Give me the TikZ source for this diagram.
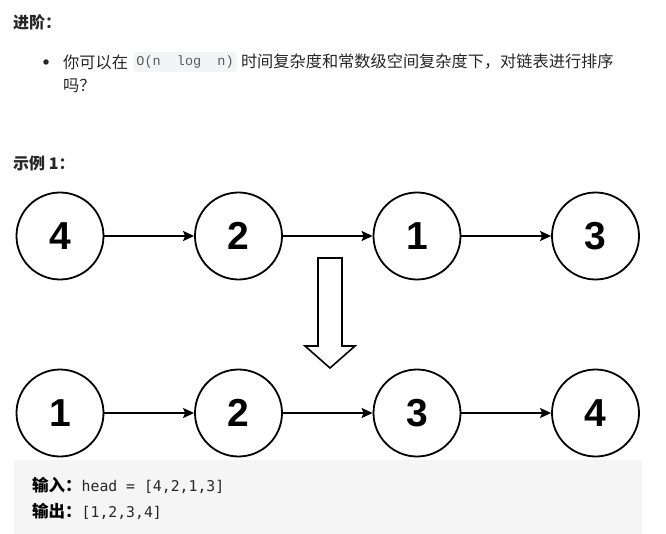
\documentclass[tikz,border=0pt]{standalone}
\usepackage{fontspec}
\usepackage{tikz}
\usetikzlibrary{positioning,arrows.meta}
\setmainfont{Liberation Sans}
\setmonofont{DejaVu Sans Mono}
\newfontfamily\cjk{Noto Sans CJK SC}
\newfontfamily\codefont{Liberation Mono}
\definecolor{ink}{HTML}{262626}
\definecolor{codebg}{HTML}{F3F4F5}
\definecolor{codefg}{HTML}{595959}
\definecolor{boxbg}{HTML}{F5F5F5}
\newcommand{\numsize}{\fontsize{39}{39}\selectfont\bfseries}
\newcommand{\txt}{\cjk\fontsize{16.2}{19}\selectfont}

\begin{document}
\begin{tikzpicture}[
  x=1pt, y=-1pt,
  node distance=89.7pt,
  num/.style={circle, draw=black, line width=1.8pt, minimum size=87pt, inner sep=0pt, font=\numsize},
  link/.style={-{Stealth[length=11pt,width=10pt,inset=2pt]}, line width=1.5pt},
  head/.style={anchor=west, inner sep=0pt, font=\cjk\bfseries\fontsize{16}{19}\selectfont, text=ink},
  para/.style={anchor=west, inner sep=0pt, font=\txt, text=ink},
  code/.style={anchor=west, fill=codebg, rounded corners=3pt, inner xsep=3pt, inner ysep=0pt, minimum height=20pt, font=\codefont\fontsize{13.5}{16}\selectfont, text=codefg},
  dot/.style={circle, fill=ink, inner sep=0pt, minimum size=5.5pt},
  io/.style={anchor=west, inner sep=0pt, font=\cjk\fontsize{16.5}{19}\selectfont, text=black},
]
\useasboundingbox (0,0) rectangle (666,534);

% follow-up question
\node[head] (adv) at (13,22) {进阶：};
\node[dot] (bul) at (46,62) {};
\node[para] (q1) at (63,62) {你可以在};
\node[code, right=5pt of q1] (cx) {O(n~~log~~n)};
\node[para, right=4pt of cx] (q2) {时间复杂度和常数级空间复杂度下，对链表进行排序};
\node[para] (q3) at (63,86) {吗？};

% example heading
\node[head] (ex) at (13,163) {示例 1：};

% unsorted list
\node[num] (t4) at (60,236) {4};
\node[num, right=of t4] (t2) {2};
\node[num, right=of t2] (t1) {1};
\node[num, right=of t1] (t3) {3};

\draw[link] (t4) -- (t2);
\draw[link] (t2) -- (t1);
\draw[link] (t1) -- (t3);

% hollow down arrow
\draw[line width=1.6pt, line join=miter] (318,258) -- (342,258) -- (342,346) -- (355,346)
  -- (330,368) -- (305,346) -- (318,346) -- cycle;

% sorted list
\node[num] (b1) at (60,413) {1};
\node[num, right=of b1] (b2) {2};
\node[num, right=of b2] (b3) {3};
\node[num, right=of b3] (b4) {4};

\draw[link] (b1) -- (b2);
\draw[link] (b2) -- (b3);
\draw[link] (b3) -- (b4);

% input / output box
\fill[boxbg, rounded corners=3pt] (14,460) rectangle (642,545);
\node[io] (inp) at (32,485) {{\bfseries 输入：}{\ttfamily\fontsize{14.8}{18}\selectfont\color{ink}head = [4,2,1,3]}};
\node[io] (outp) at (32,511) {{\bfseries 输出：}{\ttfamily\fontsize{14.8}{18}\selectfont\color{ink}[1,2,3,4]}};

\end{tikzpicture}
\end{document}
